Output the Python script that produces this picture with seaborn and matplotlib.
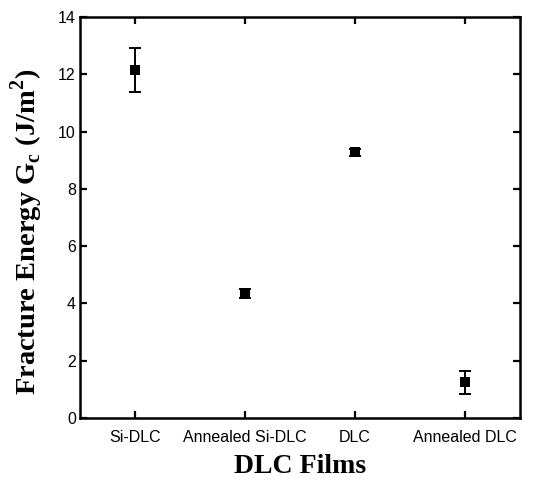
import numpy as np
import pandas as pd
import seaborn as sns
import matplotlib
matplotlib.use('Agg')
from matplotlib import pyplot as plt

# data
films = ['Si-DLC', 'Annealed Si-DLC', 'DLC', 'Annealed DLC']
energy = [12.15, 4.35, 9.28, 1.25]
energy_err = [0.78, 0.15, 0.12, 0.40]

df = pd.DataFrame({'film': films, 'energy': energy, 'err': energy_err})

sns.set_style('ticks')
plt.rcParams['font.family'] = ['Liberation Sans', 'DejaVu Sans']
plt.rcParams['xtick.direction'] = 'in'
plt.rcParams['ytick.direction'] = 'in'
plt.rcParams['text.color'] = 'black'
plt.rcParams['axes.labelcolor'] = 'black'
plt.rcParams['xtick.color'] = 'black'
plt.rcParams['ytick.color'] = 'black'
plt.rcParams['axes.edgecolor'] = 'black'

fig = plt.figure(figsize=(5.41, 4.88), dpi=100)
ax = fig.add_axes([80 / 541, 1 - 418 / 488, 440 / 541, 401 / 488])

pos = np.arange(len(films))
ax.errorbar(pos, df['energy'], yerr=df['err'], fmt='none', ecolor='black',
            elinewidth=1.4, capsize=4, capthick=1.4, zorder=2)
sns.scatterplot(x=pos, y=df['energy'], marker='s', color='black', s=60,
                edgecolor='black', linewidth=0, ax=ax, zorder=3)

ax.set_xlim(-0.5, 3.5)
ax.set_ylim(0, 14)
ax.set_xticks(pos)
ax.set_xticklabels(films)
ax.set_yticks(np.arange(0, 15, 2))
ax.tick_params(axis='both', which='both', labelsize=11.5, width=1.6, length=5,
               top=True, right=True)
ax.tick_params(axis='y', pad=3)
ax.tick_params(axis='x', pad=9)
for sp in ax.spines.values():
    sp.set_linewidth(1.8)

ax.set_xlabel('DLC Films', family='Liberation Serif', fontweight='bold',
              fontsize=20, labelpad=6)
ax.set_ylabel(r'Fracture Energy G$_\mathregular{c}$ (J/m$^\mathregular{2}$)',
              family='Liberation Serif', fontweight='bold', fontsize=20.5)
ax.yaxis.set_label_coords(-0.08, 0.465)

fig.savefig('out.png', dpi=100)
